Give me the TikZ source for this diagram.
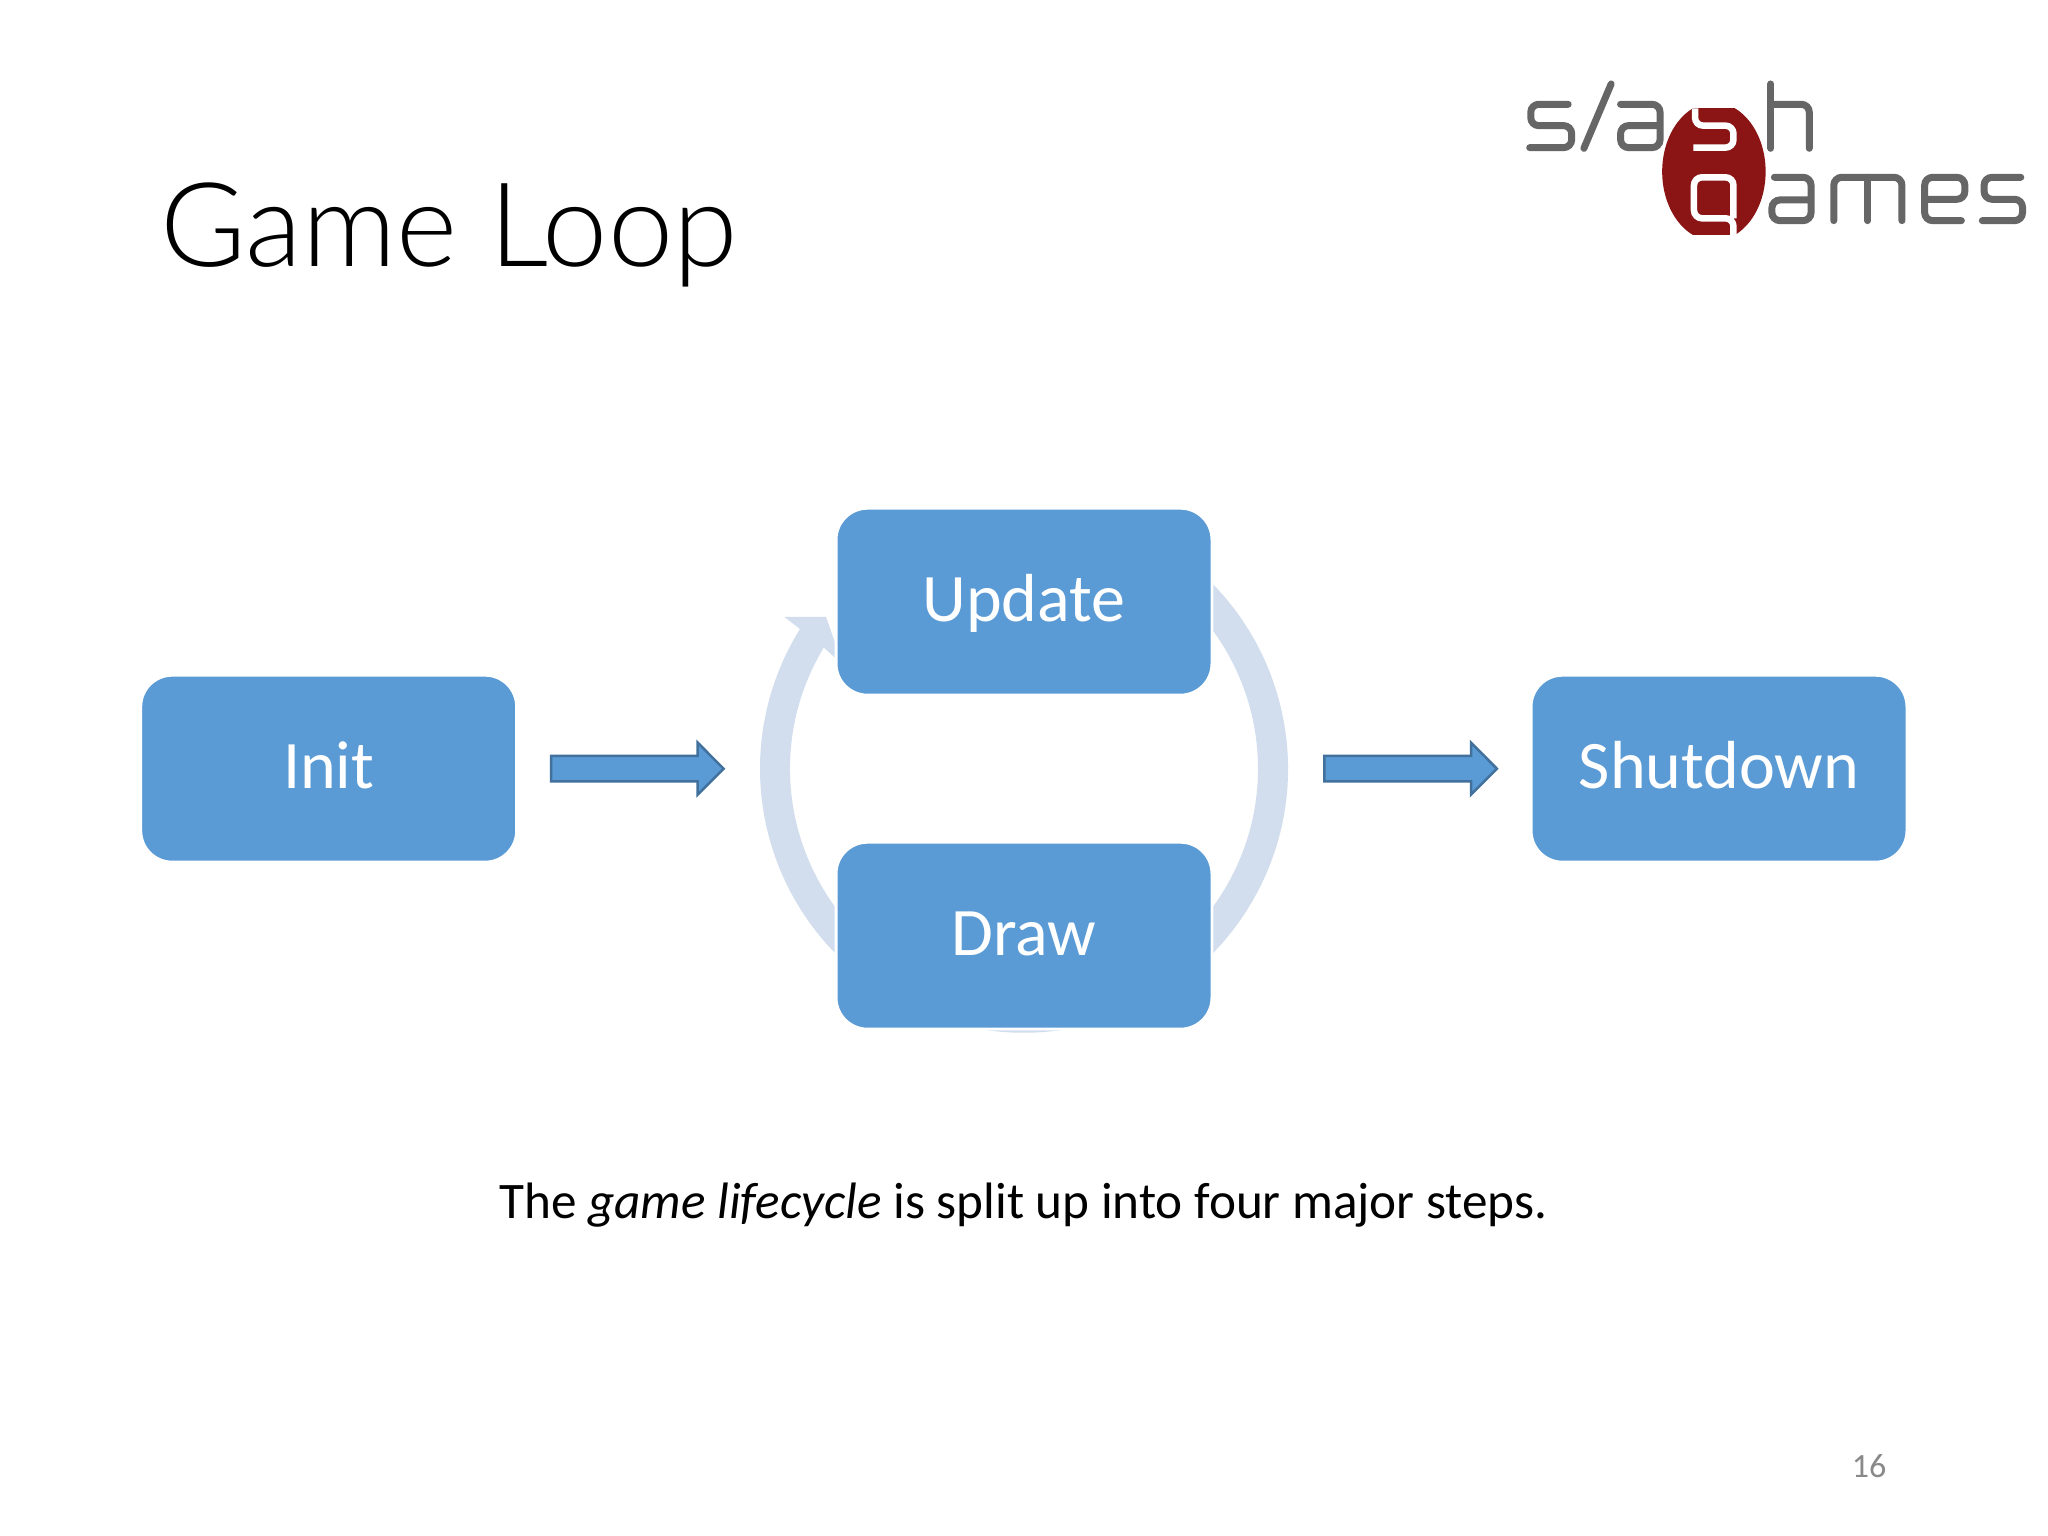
\documentclass[tikz,border=0pt]{standalone}
\usepackage{fontspec}
\setmainfont{Carlito}
\newfontfamily\titlefont{Lato Light}
\definecolor{boxblue}{HTML}{5B9BD5}
\definecolor{arrowedge}{HTML}{41719C}
\definecolor{ringblue}{HTML}{D2DEED}
\definecolor{logogray}{HTML}{666666}
\definecolor{logored}{HTML}{8B1515}
\definecolor{pagenum}{HTML}{898989}
\tikzset{
  stepbox/.style={rectangle,rounded corners=31.4pt,fill=boxblue,draw=white,line width=2.8pt,outer sep=0pt,inner sep=0pt,
    minimum width=375.8pt,minimum height=186.8pt,text=white,text height=40pt,text depth=0pt,font=\fontsize{68}{76}\selectfont},
  blockarrow/.style={fill=boxblue,draw=arrowedge,line width=2.5pt,line join=miter},
  logostroke/.style={draw=logogray,line width=7pt,line cap=round,rounded corners=8pt},
  logowhite/.style={draw=white,line width=6.5pt,line cap=round,rounded corners=8pt},
}
\begin{document}
\begin{tikzpicture}[x=1pt,y=1pt]
\useasboundingbox (0,0) rectangle (2048,1536);
\fill[white] (0,0) rectangle (2048,1536);
% ring
\fill[ringblue] (1024,767.3) ++(60:264pt) arc[start angle=60,end angle=-212,radius=264pt]
  -- ++(148:-30pt) arc[start angle=-212,end angle=60,radius=234pt] -- cycle;
\fill[ringblue] (784.5,919) -- (826,919) -- (843,871) -- (823.6,888.6) -- (800.3,906.7) -- cycle;
% boxes
\node[stepbox] (init) at (328.7,767.3) {Init};
\node[stepbox] (update) at (1024,934.3) {Update};
\node[stepbox] (draw) at (1024,600.3) {Draw};
\node[stepbox] (shutdown) at (1719,767.3) {Shutdown};
% block arrows
\draw[blockarrow] (551,780) -- (697.7,780) -- (697.7,793.3) -- (723.6,767.3) -- (697.7,741.3) -- (697.7,754.6) -- (551,754.6) -- cycle;
\draw[blockarrow] (1324.3,780) -- (1471,780) -- (1471,793.3) -- (1496.9,767.3) -- (1471,741.3) -- (1471,754.6) -- (1324.3,754.6) -- cycle;
% texts
\node[anchor=base west,inner sep=0pt,font=\titlefont\fontsize{117}{124}\selectfont,text=black] (title) at (160,1269.5) {Game Loop};
\node[anchor=base,inner sep=0pt,font=\fontsize{51.2}{58}\selectfont,text=black] (caption) at (1023.5,1536-1218.5) {The \textit{game lifecycle} is split up into four major steps.};
\node[anchor=base,inner sep=0pt,font=\fontsize{34}{38}\selectfont,text=pagenum] (page) at (1869,58) {16};
% logo
\begin{scope}[shift={(1500,1476)},x=0.3495pt,y=-0.3333pt]
  \begin{scope}
    \clip (400,145) rectangle (820,525);
    \fill[logored] (612,335) ellipse [x radius=148*0.3495pt,y radius=208*0.3333pt];
  \end{scope}
  \draw[logostroke] (195,133) -- (88,133) -- (88,197) -- (205,197) -- (205,263) -- (85,263);
  \draw[logostroke,rounded corners=0pt] (318,72) -- (240,265);
  \draw[logostroke] (345,133) -- (458,133) -- (458,263) -- (345,263) -- (345,197) -- (458,197);
  \draw[logostroke,rounded corners=0pt] (775,72) -- (775,265);
  \draw[logostroke] (775,133) -- (885,133) -- (885,265);
  \draw[logowhite,line cap=butt] (558,145) -- (558,197) -- (668,197) -- (668,263) -- (553,263);
  \draw[logowhite,line cap=butt] (668,475) -- (668,352) -- (555,352) -- (555,475) -- (668,475) -- (668,525);
  \draw[logostroke] (785,352) -- (890,352) -- (890,482) -- (778,482) -- (778,420) -- (890,420);
  \draw[logostroke] (955,482) -- (955,352) -- (1150,352) -- (1150,482);
  \draw[logostroke,rounded corners=0pt] (1052,352) -- (1052,482);
  \draw[logostroke] (1320,482) -- (1215,482) -- (1215,352) -- (1330,352) -- (1330,418) -- (1215,418);
  \draw[logostroke] (1490,352) -- (1385,352) -- (1385,418) -- (1495,418) -- (1495,482) -- (1380,482);
\end{scope}
\end{tikzpicture}
\end{document}
